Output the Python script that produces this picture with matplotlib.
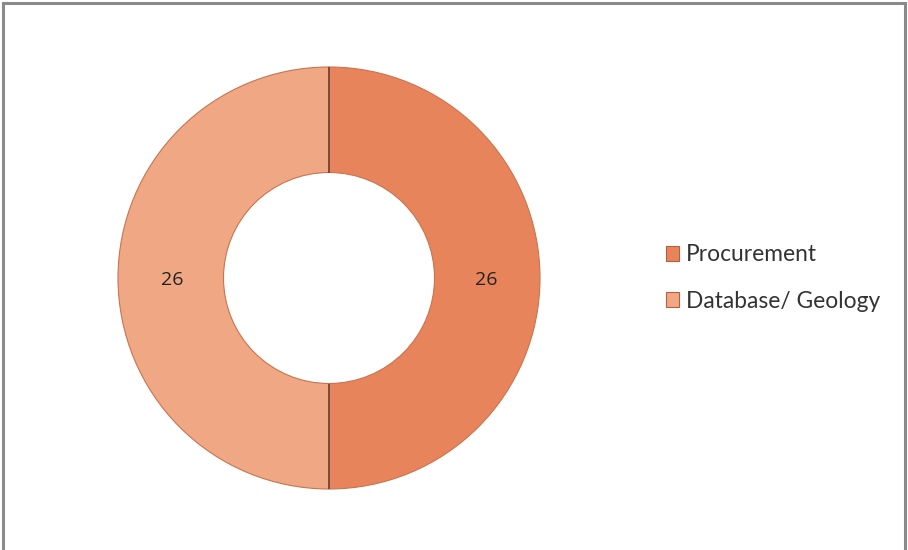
import numpy as np
import matplotlib.pyplot as plt
from matplotlib.patches import Rectangle

# slice data (clockwise from 12 o'clock -> Procurement on the right)
labels = ["Procurement", "Database/ Geology"]
values = [26, 26]
colors = ["#E8845B", "#EFA784"]

fig = plt.figure(figsize=(9.08, 5.5), dpi=100)
W, H = 908, 550

# outer frame of the chart area (bottom edge runs past the figure)
fig.patches.append(Rectangle((3 / W, -0.05), 902 / W, 1.05 - 3 / H,
                             transform=fig.transFigure, fill=False,
                             edgecolor="#8a8a8a", linewidth=2.2))

# donut axes: centre (329, 278), outer radius 211 px
cx, cy, r = 329, 278, 211
ax = fig.add_axes([(cx - r) / W, (H - cy - r) / H, 2 * r / W, 2 * r / H])
wedges, _ = ax.pie(values, colors=colors, startangle=90, counterclock=False,
                   radius=1.0,
                   wedgeprops=dict(width=0.5, edgecolor="#c9744f", linewidth=0.8))
ax.set_xlim(-1, 1)
ax.set_ylim(-1, 1)
ax.set_aspect("equal")
ax.axis("off")

# dark dividers between segments
for w in wedges:
    a = np.deg2rad(w.theta1)
    ax.plot([0.5 * np.cos(a), np.cos(a)], [0.5 * np.sin(a), np.sin(a)],
            color="#7a4a3a", linewidth=1.4, solid_capstyle="butt")

# value labels in the middle of each ring segment
for w, v in zip(wedges, values):
    ang = np.deg2rad((w.theta1 + w.theta2) / 2)
    ax.text(0.745 * np.cos(ang), 0.745 * np.sin(ang) - 0.01, str(v),
            ha="center", va="center", fontsize=14, family="Open Sans",
            color="#222222")

# legend
handles = [Rectangle((0, 0), 1, 1, facecolor=c, edgecolor="#b5603a",
                     linewidth=0.8) for c in colors]
fig.legend(handles, labels, loc="center left",
           bbox_to_anchor=(645 / W, 1 - 278 / H), frameon=False,
           prop=dict(family="Lato", size=16.4), labelcolor="#333333",
           handlelength=0.6, handleheight=0.6, handletextpad=0.3,
           labelspacing=1.1)

fig.savefig("out.png", dpi=100)
